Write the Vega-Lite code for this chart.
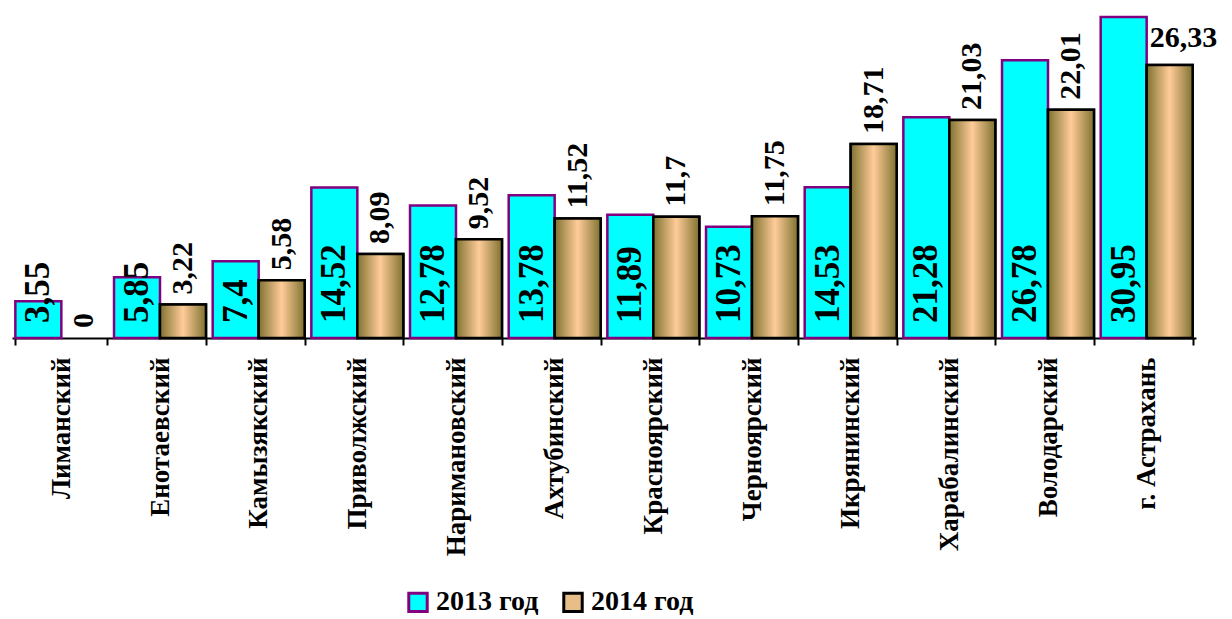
{
  "$schema": "https://vega.github.io/schema/vega-lite/v6.json",
  "width": 1184,
  "height": 338,
  "autosize": {"type": "none"},
  "padding": {"left": 12, "top": 0, "right": 36, "bottom": 281},
  "background": "white",
  "config": {"view": {"stroke": null}, "font": "Liberation Serif, Times New Roman, serif"},
  "data": {
    "values": [
      {"district": "Лиманский", "year": "2013 год", "value": 3.55, "label": "3,55"},
      {"district": "Лиманский", "year": "2014 год", "value": 0, "label": "0"},
      {"district": "Енотаевский", "year": "2013 год", "value": 5.85, "label": "5,85"},
      {"district": "Енотаевский", "year": "2014 год", "value": 3.22, "label": "3,22"},
      {"district": "Камызякский", "year": "2013 год", "value": 7.4, "label": "7,4"},
      {"district": "Камызякский", "year": "2014 год", "value": 5.58, "label": "5,58"},
      {"district": "Приволжский", "year": "2013 год", "value": 14.52, "label": "14,52"},
      {"district": "Приволжский", "year": "2014 год", "value": 8.09, "label": "8,09"},
      {"district": "Наримановский", "year": "2013 год", "value": 12.78, "label": "12,78"},
      {"district": "Наримановский", "year": "2014 год", "value": 9.52, "label": "9,52"},
      {"district": "Ахтубинский", "year": "2013 год", "value": 13.78, "label": "13,78"},
      {"district": "Ахтубинский", "year": "2014 год", "value": 11.52, "label": "11,52"},
      {"district": "Красноярский", "year": "2013 год", "value": 11.89, "label": "11,89"},
      {"district": "Красноярский", "year": "2014 год", "value": 11.7, "label": "11,7"},
      {"district": "Черноярский", "year": "2013 год", "value": 10.73, "label": "10,73"},
      {"district": "Черноярский", "year": "2014 год", "value": 11.75, "label": "11,75"},
      {"district": "Икрянинский", "year": "2013 год", "value": 14.53, "label": "14,53"},
      {"district": "Икрянинский", "year": "2014 год", "value": 18.71, "label": "18,71"},
      {"district": "Харабалинский", "year": "2013 год", "value": 21.28, "label": "21,28"},
      {"district": "Харабалинский", "year": "2014 год", "value": 21.03, "label": "21,03"},
      {"district": "Володарский", "year": "2013 год", "value": 26.78, "label": "26,78"},
      {"district": "Володарский", "year": "2014 год", "value": 22.01, "label": "22,01"},
      {"district": "г. Астрахань", "year": "2013 год", "value": 30.95, "label": "30,95"},
      {"district": "г. Астрахань", "year": "2014 год", "value": 26.33, "label": "26,33"}
    ]
  },
  "encoding": {
    "x": {
      "field": "district",
      "type": "nominal",
      "sort": null,
      "scale": {"paddingInner": 0.068, "paddingOuter": 0.034},
      "axis": {
        "title": null,
        "labelAngle": -90,
        "labelFont": "Liberation Serif, Times New Roman, serif",
        "labelFontWeight": "bold",
        "labelFontSize": 27,
        "labelColor": "black",
        "labelPadding": 12,
        "labelLimit": 300,
        "domainColor": "black",
        "domainWidth": 2,
        "tickColor": "black",
        "tickWidth": 2,
        "tickSize": 7,
        "tickBand": "extent",
        "grid": false
      }
    },
    "xOffset": {
      "field": "year",
      "type": "nominal",
      "scale": {"paddingInner": 0, "paddingOuter": 0}
    }
  },
  "layer": [
    {
      "transform": [{"filter": "datum.value > 0"}],
      "mark": {"type": "bar", "strokeWidth": 2.5},
      "encoding": {
        "y": {
          "field": "value",
          "type": "quantitative",
          "scale": {"domain": [0, 32.6], "nice": false, "zero": true},
          "axis": null
        },
        "fill": {
          "field": "year",
          "type": "nominal",
          "scale": {"range": ["#00FFFF", "#E8BE88"]},
          "legend": {
            "title": null,
            "orient": "none",
            "legendX": 392,
            "legendY": 588,
            "direction": "horizontal",
            "symbolType": "square",
            "symbolSize": 340,
            "symbolStrokeWidth": 3,
            "labelFont": "Liberation Serif, Times New Roman, serif",
            "labelFontWeight": "bold",
            "labelFontSize": 28,
            "labelColor": "black",
            "columnPadding": 18,
            "labelOffset": 4
          }
        },
        "stroke": {
          "field": "year",
          "type": "nominal",
          "scale": {"range": ["#800080", "#000000"]},
          "legend": {
            "title": null,
            "orient": "none",
            "legendX": 392,
            "legendY": 588,
            "direction": "horizontal",
            "symbolType": "square",
            "symbolSize": 340,
            "symbolStrokeWidth": 3,
            "labelFont": "Liberation Serif, Times New Roman, serif",
            "labelFontWeight": "bold",
            "labelFontSize": 28,
            "labelColor": "black",
            "columnPadding": 18,
            "labelOffset": 4
          }
        }
      }
    },
    {
      "transform": [{"filter": "datum.year === '2014 год' && datum.value > 0"}],
      "mark": {
        "type": "bar",
        "strokeWidth": 2.5,
        "stroke": "#000000",
        "fill": {
          "gradient": "linear",
          "x1": 0, "y1": 0, "x2": 1, "y2": 0,
          "stops": [
            {"offset": 0, "color": "#7F7230"},
            {"offset": 0.5, "color": "#FFCC99"},
            {"offset": 1, "color": "#7F7230"}
          ]
        }
      },
      "encoding": {
        "y": {"field": "value", "type": "quantitative"}
      }
    },
    {
      "transform": [{"filter": "datum.year === '2013 год'"}],
      "mark": {
        "type": "text",
        "angle": 270,
        "align": "left",
        "baseline": "middle",
        "dx": 15,
        "font": "Liberation Serif, Times New Roman, serif",
        "fontWeight": "bold",
        "fontSize": 35,
        "color": "black"
      },
      "encoding": {
        "y": {"datum": 0, "type": "quantitative"},
        "text": {"field": "label"}
      }
    },
    {
      "transform": [{"filter": "datum.year === '2014 год' && datum.district !== 'г. Астрахань'"}],
      "mark": {
        "type": "text",
        "angle": 270,
        "align": "left",
        "baseline": "middle",
        "dx": 10,
        "font": "Liberation Serif, Times New Roman, serif",
        "fontWeight": "bold",
        "fontSize": 30,
        "color": "black"
      },
      "encoding": {
        "y": {"field": "value", "type": "quantitative"},
        "text": {"field": "label"}
      }
    },
    {
      "transform": [{"filter": "datum.year === '2014 год' && datum.district === 'г. Астрахань'"}],
      "mark": {
        "type": "text",
        "angle": 0,
        "align": "left",
        "baseline": "alphabetic",
        "dx": -20,
        "dy": -18,
        "font": "Liberation Serif, Times New Roman, serif",
        "fontWeight": "bold",
        "fontSize": 30,
        "color": "black"
      },
      "encoding": {
        "y": {"field": "value", "type": "quantitative"},
        "text": {"field": "label"}
      }
    }
  ]
}
